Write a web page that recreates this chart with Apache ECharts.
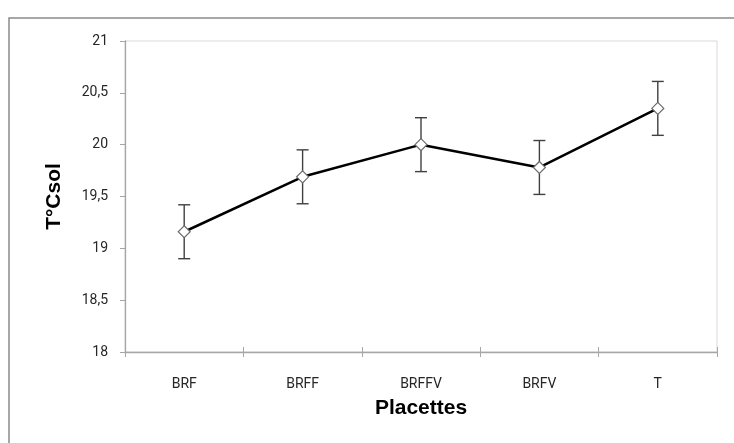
<!DOCTYPE html>
<html>
<head>
<meta charset="utf-8">
<script src="https://cdn.jsdelivr.net/npm/echarts@6/dist/echarts.min.js"></script>
<style>
  html, body { margin: 0; padding: 0; background: #fff; }
  #chart { width: 734px; height: 443px; }
</style>
</head>
<body>
<div id="chart"></div>
<script>
const categories = ['BRF', 'BRFF', 'BRFFV', 'BRFV', 'T'];
const tempValues = [19.16, 19.69, 20.0, 19.78, 20.35];
const tempErrors = [0.26, 0.26, 0.26, 0.26, 0.26];
const yTicks = { min: 18, max: 21, interval: 0.5 };

const labelFont = "Roboto, sans-serif";
const titleFont = "'Liberation Sans', Arial, sans-serif";

const chart = echarts.init(document.getElementById('chart'));

// error bar data: [index, low, high]
const errData = tempValues.map(function (v, i) {
    return [i, v - tempErrors[i], v + tempErrors[i]];
});

const option = {
    animation: false,
    backgroundColor: '#fff',
    graphic: [{
        type: 'rect',
        shape: { x: 9, y: 18, width: 740, height: 440 },
        style: { fill: 'none', stroke: '#8a8a8a', lineWidth: 1.5 },
        silent: true
    }],
    grid: {
        left: 125, top: 41, right: 17, bottom: 91,
        show: true, borderColor: '#d9d9d9', borderWidth: 1
    },
    xAxis: [{
        type: 'category',
        data: categories,
        boundaryGap: true,
        axisLine: { lineStyle: { color: '#a6a6a6', width: 1.3 } },
        axisTick: { show: true, length: 5, lineStyle: { color: '#a6a6a6' } },
        axisLabel: { margin: 25, fontSize: 14, color: '#262626', fontFamily: labelFont },
        name: 'Placettes',
        nameLocation: 'middle',
        nameGap: 46,
        nameTextStyle: { fontSize: 21, fontWeight: 'bold', color: '#000', fontFamily: titleFont }
    }, {
        type: 'category',
        data: categories,
        position: 'bottom',
        boundaryGap: true,
        axisLine: { show: false },
        axisTick: { show: true, inside: true, length: 5, lineStyle: { color: '#a6a6a6' } },
        axisLabel: { show: false }
    }],
    yAxis: {
        type: 'value',
        min: yTicks.min,
        max: yTicks.max,
        interval: yTicks.interval,
        splitLine: { show: false },
        axisLine: { show: true, lineStyle: { color: '#a6a6a6', width: 1.3 } },
        axisTick: { show: true, length: 5, lineStyle: { color: '#a6a6a6' } },
        axisLabel: {
            margin: 17, fontSize: 14, color: '#262626', fontFamily: labelFont,
            formatter: function (v) { return String(v).replace('.', ','); }
        },
        name: 'T°Csol',
        nameLocation: 'middle',
        nameGap: 60,
        nameTextStyle: { fontSize: 21, fontWeight: 'bold', color: '#000', fontFamily: titleFont }
    },
    series: [{
        type: 'custom',
        z: 1,
        data: errData,
        renderItem: function (params, api) {
            const i = api.value(0);
            const lo = api.coord([i, api.value(1)]);
            const hi = api.coord([i, api.value(2)]);
            const cap = 6;
            const style = { stroke: '#404040', lineWidth: 1.4 };
            return {
                type: 'group',
                children: [
                    { type: 'line', shape: { x1: hi[0], y1: hi[1], x2: lo[0], y2: lo[1] }, style: style },
                    { type: 'line', shape: { x1: hi[0] - cap, y1: hi[1], x2: hi[0] + cap, y2: hi[1] }, style: style },
                    { type: 'line', shape: { x1: lo[0] - cap, y1: lo[1], x2: lo[0] + cap, y2: lo[1] }, style: style }
                ]
            };
        }
    }, {
        type: 'line',
        z: 3,
        data: tempValues,
        symbol: 'diamond',
        symbolSize: 12,
        lineStyle: { color: '#000', width: 2.5 },
        itemStyle: { color: '#fff', borderColor: '#6b6b6b', borderWidth: 1.2 }
    }]
};

chart.setOption(option);
</script>
</body>
</html>
